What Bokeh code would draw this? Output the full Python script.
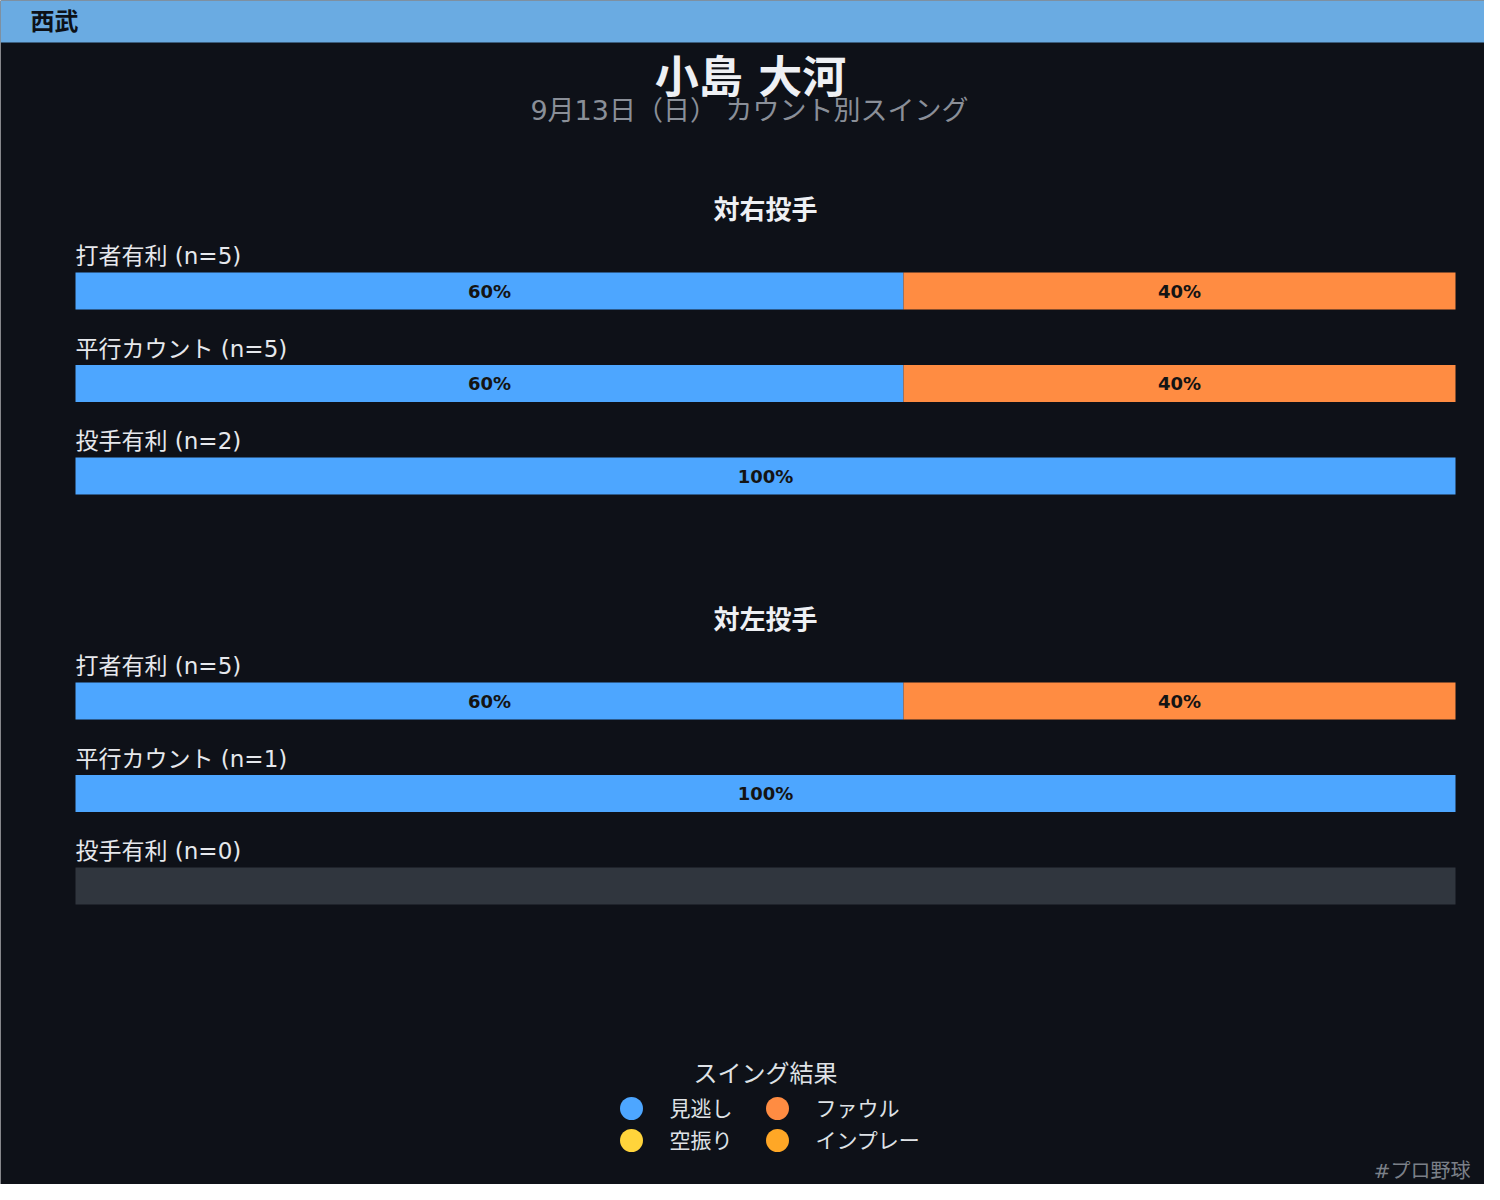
from bokeh.plotting import figure
from bokeh.models import Range1d, Label, BoxAnnotation, ColumnDataSource
from bokeh.core.properties import value
from bokeh.embed import file_html
from bokeh.resources import INLINE

# ---------------- data ----------------
team = "西武"
player = "小島 大河"
subtitle = "9月13日（日） カウント別スイング"
panels = ["対右投手", "対左投手"]
counts = ["打者有利", "平行カウント", "投手有利"]
outcomes = ["見逃し", "空振り", "ファウル", "インプレー"]
n_right = [5, 5, 2]
n_left = [5, 1, 0]
# percentages per outcome (見逃し, 空振り, ファウル, インプレー)
miss_right = [60, 60, 100]
whiff_right = [0, 0, 0]
foul_right = [40, 40, 0]
inplay_right = [0, 0, 0]
miss_left = [60, 100, 0]
whiff_left = [0, 0, 0]
foul_left = [40, 0, 0]
inplay_left = [0, 0, 0]
legend_title = "スイング結果"
watermark = "#プロ野球"

# ---------------- style ----------------
FONT = "DejaVu Sans, Noto Sans CJK JP"
BG = "#0e1118"
colors = {"見逃し": "#4da6ff", "空振り": "#ffd43b", "ファウル": "#ff8c42", "インプレー": "#ffa726"}
EMPTY = "#30363e"

W, H = 1484, 1184
# bar span in page pixels: 75..1455 -> 0..100 %
px0, pxw = 75.0, 1380.0
def pct_of_px(px):
    return (px - px0) / pxw * 100.0

p = figure(width=W, height=H, output_backend="svg", toolbar_location=None,
           x_range=Range1d(pct_of_px(0), pct_of_px(W)),
           y_range=Range1d(H, 0), min_border=0,
           background_fill_color=BG, border_fill_color=BG, outline_line_color=None)
p.axis.visible = False
p.grid.visible = False

def sx(px):
    return px
def sy(py):
    return H - py

def label(px, py, text, size, color, bold=False, align="left"):
    p.add_layout(Label(x=sx(px), y=sy(py), x_units="screen", y_units="screen", text=text,
                       text_font=FONT, text_font_size=f"{size}px", text_color=color,
                       text_font_style="bold" if bold else "normal",
                       text_align=align, text_baseline="middle"))

# header band
p.add_layout(BoxAnnotation(bottom=sy(42), bottom_units="screen", fill_color="#6aabe2",
                           fill_alpha=1, line_color=None, level="underlay"))
label(30, 21, team, 24, "#0d1117", bold=True)

# titles
label(750, 77, player, 44, "#eef0f4", bold=True, align="center")
label(749, 110, subtitle, 27, "#8a8f98", align="center")

panel_data = [
    (n_right, [miss_right, whiff_right, foul_right, inplay_right]),
    (n_left, [miss_left, whiff_left, foul_left, inplay_left]),
]

panel_title_y = [209, 619]
row_gap = 92.5
bar_h = 37

for pi, (ns, series) in enumerate(panel_data):
    ty = panel_title_y[pi]
    label(765, ty, panels[pi], 26, "#eef0f4", bold=True, align="center")
    for ri, cat in enumerate(counts):
        yc = ty + 81.5 + ri * row_gap
        label(75, yc - 35, f"{cat} (n={ns[ri]})", 23, "#e6e8ec")
        if ns[ri] == 0:
            p.hbar(y=[yc], left=[0], right=[100], height=bar_h, fill_color=EMPTY, line_color=None)
            continue
        cum = 0
        lefts, rights, cols, mids, txts = [], [], [], [], []
        for oi, o in enumerate(outcomes):
            v = series[oi][ri]
            if v <= 0:
                continue
            lefts.append(cum); rights.append(cum + v); cols.append(colors[o])
            mids.append(cum + v / 2); txts.append(f"{v}%")
            cum += v
        src = ColumnDataSource(dict(left=lefts, right=rights, color=cols,
                                    y=[yc] * len(lefts), mid=mids, txt=txts))
        p.hbar(y="y", left="left", right="right", height=bar_h, fill_color="color",
               line_color=None, source=src)
        p.text(x="mid", y="y", text="txt", source=src, text_font=value(FONT),
               text_font_size="18px", text_color="#141414", text_font_style="bold",
               text_align="center", text_baseline="middle")

# legend
label(765, 1073, legend_title, 24, "#dfe2e6", align="center")
leg_pos = [(631, 1108), (631, 1140), (777, 1108), (777, 1140)]
for (lx, ly), o in zip(leg_pos, outcomes):
    p.scatter(x=[pct_of_px(lx)], y=[ly], size=23, marker="circle",
              fill_color=colors[o], line_color=None)
    label(lx + 38, ly, o, 21, "#dfe2e6")

label(1470, 1170, watermark, 20, "#7b8088", align="right")

open("out.html", "w").write(file_html(p, INLINE))
